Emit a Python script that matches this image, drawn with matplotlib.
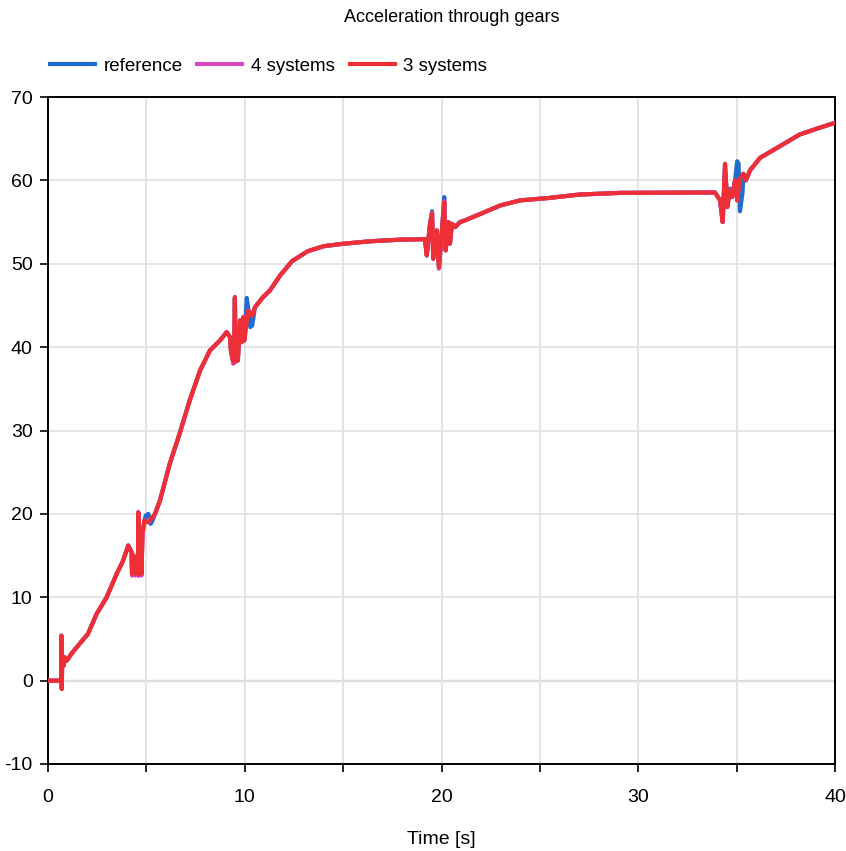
import matplotlib
matplotlib.use("Agg")
import matplotlib.pyplot as plt
import numpy as np

plt.rcParams['font.family'] = ['Liberation Sans Narrow', 'Liberation Sans', 'DejaVu Sans']
plt.rcParams['axes.unicode_minus'] = False

# time grid shared by the three signals [s]
t = [0.0, 0.67, 0.68, 0.70, 0.72, 0.75, 0.80, 0.85, 0.95, 1.25, 1.60, 2.03, 2.25, 2.47, 2.98,
     3.49, 3.80, 4.08, 4.25, 4.27, 4.35, 4.42, 4.50, 4.57, 4.59, 4.62, 4.70, 4.75, 4.80, 4.90,
     4.97, 5.10, 5.22, 5.35, 5.44, 5.69, 6.20, 6.70, 7.20, 7.73, 8.23, 8.74, 9.08, 9.25, 9.30,
     9.42, 9.47, 9.50, 9.53, 9.60, 9.65, 9.76, 9.85, 9.93, 9.98, 10.10, 10.18, 10.28, 10.38, 10.52,
     10.93, 11.28, 11.80, 12.40, 13.20, 14.00, 15.00, 16.40, 18.00, 19.16, 19.25, 19.42, 19.52, 19.58, 19.76,
     19.87, 20.01, 20.14, 20.21, 20.35, 20.43, 20.53, 20.69, 20.94, 21.19, 22.0, 23.0, 24.0, 25.5, 27.0,
     29.1, 33.9, 34.16, 34.29, 34.41, 34.53, 34.66, 34.77, 34.92, 35.03, 35.10, 35.17, 35.30, 35.34, 35.47,
     35.68, 36.19, 37.2, 38.2, 39.2, 40.0]

reference = [0, 0, 5.4, -1.0, 2.4, 2.6, 1.8, 2.8, 2.4, 3.4, 4.4, 5.6, 6.8, 8.0, 10.0,
             12.8, 14.3, 16.2, 15.4, 12.8, 15.0, 12.8, 14.8, 12.8, 20.2, 12.8, 17.6, 12.8, 17.6, 19.2,
             19.8, 20.0, 18.8, 19.4, 20.0, 21.6, 26.1, 29.7, 33.6, 37.2, 39.6, 40.8, 41.8, 41.2, 39.5,
             38.2, 41.0, 46.0, 38.4, 39.5, 38.4, 43.2, 40.6, 43.6, 40.8, 45.9, 44.6, 42.4, 42.6, 44.8,
             46.0, 46.8, 48.6, 50.3, 51.5, 52.1, 52.4, 52.7, 52.9, 52.95, 51.0, 54.8, 56.3, 50.6, 54.0,
             49.6, 53.6, 58.0, 51.6, 55.0, 52.4, 54.8, 54.4, 55.0, 55.2, 56.0, 57.0, 57.6, 57.9, 58.3,
             58.5, 58.55, 57.6, 55.0, 61.5, 57.2, 59.0, 58.0, 60.0, 62.3, 62.0, 56.3, 58.5, 60.6, 60.0,
             61.2, 62.7, 64.1, 65.5, 66.3, 66.9]

systems4 = [0, 0, 5.3, -0.9, 2.4, 2.6, 1.8, 2.8, 2.4, 3.4, 4.4, 5.6, 6.8, 8.0, 10.0,
            12.8, 14.3, 16.2, 15.4, 12.6, 15.0, 12.6, 14.8, 12.6, 20.0, 12.6, 17.6, 12.6, 17.6, 19.2,
            19.1, 19.0, 19.4, 19.7, 20.0, 21.6, 26.1, 29.7, 33.6, 37.2, 39.6, 40.8, 41.8, 41.2, 39.5,
            38.0, 41.0, 45.8, 38.2, 39.5, 38.4, 43.2, 40.6, 43.6, 40.8, 43.3, 44.4, 43.9, 43.8, 44.8,
            46.0, 46.8, 48.6, 50.3, 51.5, 52.1, 52.4, 52.7, 52.9, 52.95, 51.0, 54.8, 56.1, 50.6, 54.0,
            49.4, 53.6, 57.5, 51.6, 55.0, 52.4, 54.8, 54.4, 55.0, 55.2, 56.0, 57.0, 57.6, 57.9, 58.3,
            58.5, 58.55, 57.6, 55.0, 61.9, 56.8, 58.8, 58.0, 60.0, 57.6, 59.0, 60.2, 60.6, 60.8, 60.0,
            61.2, 62.7, 64.1, 65.5, 66.3, 66.9]

systems3 = [0, 0, 5.4, -1.0, 2.4, 2.6, 1.8, 2.8, 2.4, 3.4, 4.4, 5.6, 6.8, 8.0, 10.0,
            12.8, 14.3, 16.2, 15.4, 12.8, 15.0, 12.8, 14.8, 12.8, 20.2, 12.8, 17.6, 12.8, 17.6, 19.2,
            19.0, 19.0, 19.4, 19.7, 20.0, 21.6, 26.1, 29.7, 33.6, 37.2, 39.6, 40.8, 41.8, 41.2, 39.5,
            38.2, 41.0, 46.0, 38.4, 39.5, 38.4, 43.2, 40.6, 43.6, 40.8, 43.2, 44.4, 43.9, 43.8, 44.8,
            46.0, 46.8, 48.6, 50.3, 51.5, 52.1, 52.4, 52.7, 52.9, 52.95, 51.0, 54.8, 56.0, 50.6, 54.0,
            49.6, 53.6, 57.4, 51.6, 55.0, 52.4, 54.8, 54.4, 55.0, 55.2, 56.0, 57.0, 57.6, 57.9, 58.3,
            58.5, 58.55, 57.6, 55.0, 62.0, 56.8, 58.8, 58.0, 60.0, 57.6, 59.0, 60.2, 60.6, 60.8, 60.0,
            61.2, 62.7, 64.1, 65.5, 66.3, 66.9]

labels = ["reference", "4 systems", "3 systems"]
colors = ["#1f6ccf", "#d846c0", "#ee3036"]

fig = plt.figure(figsize=(8.46, 8.51), dpi=100)
ax = fig.add_axes([48/846, 87/851, 787/846, 667/851])

# grid + zero line
ax.set_xticks(np.arange(0, 41, 5))
ax.set_xticklabels(["0", "", "10", "", "20", "", "30", "", "40"])
ax.set_yticks(np.arange(-10, 71, 10))
ax.grid(True, color="#e3e3e3", linewidth=1.3)
ax.axhline(0, color="#b8b8b8", linewidth=1.6, zorder=1)

for vals, lab, col in zip([reference, systems4, systems3], labels, colors):
    ax.plot(t, vals, color=col, linewidth=3.0, label=lab, solid_joinstyle="round", zorder=3)

ax.set_xlim(0, 40)
ax.set_ylim(-10, 70)
for sp in ax.spines.values():
    sp.set_color("black")
    sp.set_linewidth(1.4)
ax.tick_params(direction="out", length=6, width=1.2, colors="black", labelsize=14)
ax.tick_params(axis="x", pad=12)
ax.tick_params(axis="y", pad=5)
ax.set_xlabel("Time [s]", fontsize=14, labelpad=18)

fig.text(452/846, 1 - 17/851, "Acceleration through gears", ha="center", va="center", fontsize=13)
fig.legend(loc="center left", bbox_to_anchor=(33/846, 1 - 66/851), ncol=3, frameon=False,
           fontsize=13.5, handlelength=2.4, handletextpad=0.45, columnspacing=0.8)

fig.savefig("out.png", dpi=100)
